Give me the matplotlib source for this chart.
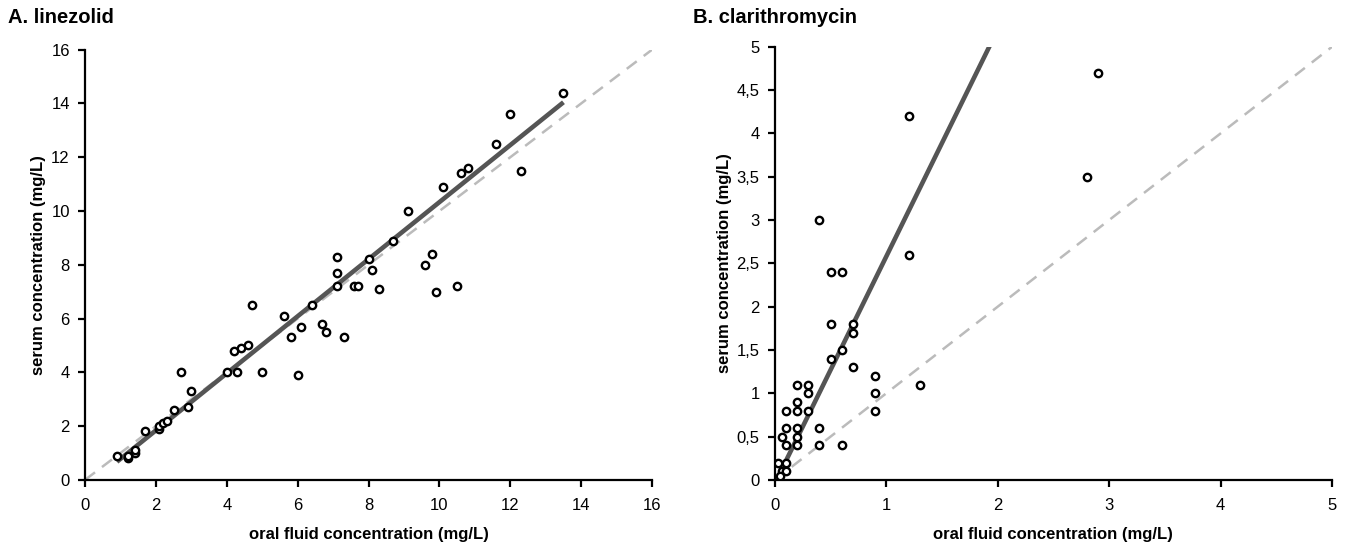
import matplotlib
matplotlib.use("Agg")
import matplotlib.pyplot as plt
import numpy as np

plt.rcParams['font.family'] = ['Liberation Sans', 'DejaVu Sans']

# A. linezolid: oral fluid (x) vs serum (y), mg/L
lin_oral = [0.9, 1.2, 1.2, 1.4, 1.4, 1.7, 2.1, 2.1, 2.2, 2.3, 2.5, 2.7, 2.9, 3.0,
            4.0, 4.2, 4.3, 4.4, 4.6, 4.7, 5.0, 5.6, 5.8, 6.0, 6.1, 6.4, 6.7, 6.8,
            7.1, 7.1, 7.1, 7.3, 7.6, 7.7, 8.0, 8.1, 8.3, 8.7, 9.1, 9.6, 9.8, 9.9,
            10.1, 10.5, 10.6, 10.8, 11.6, 12.0, 12.3, 13.5]
lin_serum = [0.9, 0.8, 0.9, 1.0, 1.1, 1.8, 1.9, 2.0, 2.1, 2.2, 2.6, 4.0, 2.7, 3.3,
             4.0, 4.8, 4.0, 4.9, 5.0, 6.5, 4.0, 6.1, 5.3, 3.9, 5.7, 6.5, 5.8, 5.5,
             8.3, 7.7, 7.2, 5.3, 7.2, 7.2, 8.2, 7.8, 7.1, 8.9, 10.0, 8.0, 8.4, 7.0,
             10.9, 7.2, 11.4, 11.6, 12.5, 13.6, 11.5, 14.4]
lin_fit = (1.061, -0.28)      # slope, intercept
lin_fit_range = (0.9, 13.5)

# B. clarithromycin
cla_oral = [1.2, 2.9, 2.8, 0.4, 0.5, 0.6, 1.2, 0.5, 0.7, 0.7, 0.6, 0.5, 0.7,
            0.9, 0.9, 0.9, 1.3, 0.2, 0.3, 0.3, 0.2, 0.1, 0.2, 0.3, 0.1, 0.2,
            0.4, 0.06, 0.2, 0.1, 0.2, 0.4, 0.6, 0.03, 0.1, 0.06, 0.1, 0.05]
cla_serum = [4.2, 4.7, 3.5, 3.0, 2.4, 2.4, 2.6, 1.8, 1.8, 1.7, 1.5, 1.4, 1.3,
             1.2, 1.0, 0.8, 1.1, 1.1, 1.1, 1.0, 0.9, 0.8, 0.8, 0.8, 0.6, 0.6,
             0.6, 0.5, 0.5, 0.4, 0.4, 0.4, 0.4, 0.2, 0.2, 0.1, 0.1, 0.05]
cla_fit = (2.62, -0.04)
cla_fit_range = (0.05, 2.0)

lin_ticks = [0, 2, 4, 6, 8, 10, 12, 14, 16]
cla_xticks = [0, 1, 2, 3, 4, 5]
cla_yticks = [0, 0.5, 1, 1.5, 2, 2.5, 3, 3.5, 4, 4.5, 5]


def style_axes(ax):
    for s in ['top', 'right']:
        ax.spines[s].set_visible(False)
    for s in ['left', 'bottom']:
        ax.spines[s].set_linewidth(1.6)
        ax.spines[s].set_color('black')
    ax.tick_params(direction='out', length=5, width=1.6, labelsize=12)
    ax.tick_params(axis='x', pad=8)
    ax.tick_params(axis='y', pad=6)
    ax.set_xlabel('oral fluid concentration (mg/L)', fontsize=12,
                  fontweight='bold', labelpad=10)
    ax.set_ylabel('serum concentration (mg/L)', fontsize=12,
                  fontweight='bold', labelpad=4)


def panel(ax, x, y, fit, fit_range, lim):
    ax.plot([0, lim], [0, lim], ls=(0, (5, 3.5)), color='#bbbbbb', lw=1.8, zorder=1)
    xs = np.array(fit_range)
    ax.plot(xs, fit[0] * xs + fit[1], color='#555555', lw=3.3, zorder=2,
            solid_capstyle='butt')
    ax.scatter(x, y, s=28, facecolors='white', edgecolors='black',
               linewidths=1.7, zorder=3)
    ax.set_xlim(0, lim)
    ax.set_ylim(0, lim)
    style_axes(ax)


fig = plt.figure(figsize=(13.5, 5.58), dpi=100)

ax1 = fig.add_axes([0.063, 0.14, 0.42, 0.771])
panel(ax1, lin_oral, lin_serum, lin_fit, lin_fit_range, 16)
ax1.set_xticks(lin_ticks)
ax1.set_yticks(lin_ticks)

ax2 = fig.add_axes([0.574, 0.14, 0.4126, 0.776])
panel(ax2, cla_oral, cla_serum, cla_fit, cla_fit_range, 5)
ax2.set_xticks(cla_xticks)
ax2.set_yticks(cla_yticks)
ax2.set_yticklabels([('%g' % v).replace('.', ',') for v in cla_yticks])
ax2.yaxis.labelpad = 3

fig.text(0.006, 0.968, 'A. linezolid', fontsize=14.5, fontweight='bold', va='center')
fig.text(0.513, 0.968, 'B. clarithromycin', fontsize=14.5, fontweight='bold', va='center')

fig.savefig('out.png', dpi=100)
